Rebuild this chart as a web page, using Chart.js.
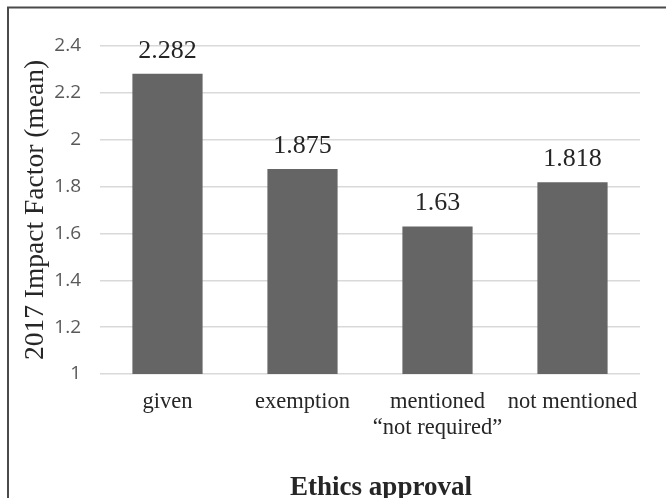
<!DOCTYPE html>
<html>
<head>
<meta charset="utf-8">
<script src="https://cdn.jsdelivr.net/npm/chart.js@4.4.1/dist/chart.umd.min.js"></script>
<style>
  html, body { margin: 0; padding: 0; background: #fff; }
  canvas { display: block; }
</style>
</head>
<body>
<canvas id="chart" width="666" height="498"></canvas>
<script>
// Mean 2017 impact factor by how ethics approval was reported
const categories = ['given', 'exemption', ['mentioned', '\u201Cnot required\u201D'], 'not mentioned'];
const meanImpactFactor = [2.282, 1.875, 1.63, 1.818];
const yTickValues = [1, 1.2, 1.4, 1.6, 1.8, 2, 2.2, 2.4];
const yTickLabels = ['1', '1.2', '1.4', '1.6', '1.8', '2', '2.2', '2.4'];
const xAxisTitle = 'Ethics approval';
const yAxisTitle = '2017 Impact Factor (mean)';

const SERIF = '"Liberation Serif", "Times New Roman", serif';
const SANS = '"Open Sans", "Liberation Sans", sans-serif';
const TEXT_DARK = '#262626';
const TICK_GRAY = '#595959';
const GRID_GRAY = '#d9d9d9';
const BAR_GRAY = '#656565';

// White background plus the outer frame line
const framePlugin = {
  id: 'frame',
  beforeDraw(chart) {
    const ctx = chart.ctx;
    ctx.save();
    ctx.fillStyle = '#ffffff';
    ctx.fillRect(0, 0, chart.width, chart.height);
    ctx.strokeStyle = '#4a4a4a';
    ctx.lineWidth = 2;
    ctx.strokeRect(8, 7.5, chart.width + 20, chart.height + 20);
    ctx.restore();
  }
};

// Value written above each bar, and the horizontal axis title
// (centred on the whole chart frame, which runs past the right edge)
const labelPlugin = {
  id: 'valueLabels',
  afterDatasetsDraw(chart) {
    const ctx = chart.ctx;
    const meta = chart.getDatasetMeta(0);
    const values = chart.data.datasets[0].data;
    ctx.save();
    ctx.font = '26px ' + SERIF;
    ctx.fillStyle = TEXT_DARK;
    ctx.textAlign = 'center';
    ctx.textBaseline = 'alphabetic';
    meta.data.forEach((bar, i) => {
      ctx.fillText(String(values[i]), bar.x, bar.y - 16);
    });

    const area = chart.chartArea;
    ctx.font = 'bold 27px ' + SERIF;
    ctx.fillText(xAxisTitle, (area.left + area.right) / 2 + 11, chart.height - 3);
    ctx.restore();
  }
};

new Chart(document.getElementById('chart'), {
  type: 'bar',
  data: {
    labels: categories,
    datasets: [{
      data: meanImpactFactor,
      backgroundColor: BAR_GRAY,
      borderWidth: 0,
      barPercentage: 0.52,
      categoryPercentage: 1.0
    }]
  },
  options: {
    responsive: false,
    animation: false,
    events: [],
    layout: { padding: { left: 8, right: 26, top: 46, bottom: 0 } },
    plugins: {
      legend: { display: false },
      tooltip: { enabled: false },
      title: { display: false }
    },
    scales: {
      x: {
        grid: { display: false, drawTicks: false },
        border: { display: false },
        ticks: {
          color: TEXT_DARK,
          padding: 15,
          maxRotation: 0,
          autoSkip: false,
          font: { family: SERIF, size: 22.5, lineHeight: 1.15 }
        },
        afterFit(scale) { scale.height = 124; }
      },
      y: {
        min: 1,
        max: 2.4,
        afterBuildTicks(scale) {
          scale.ticks = yTickValues.map(v => ({ value: v }));
        },
        grid: { color: GRID_GRAY, lineWidth: 1.5, drawTicks: false },
        border: { display: false },
        ticks: {
          color: TICK_GRAY,
          padding: 19,
          font: { family: SANS, size: 19 },
          callback(value) {
            const i = yTickValues.findIndex(v => Math.abs(v - value) < 1e-9);
            return i >= 0 ? yTickLabels[i] : '';
          }
        },
        title: {
          display: true,
          text: yAxisTitle,
          color: TEXT_DARK,
          padding: { top: 14, bottom: 0 },
          font: { family: SERIF, size: 27.5, lineHeight: 1 }
        },
        afterFit(scale) { scale.width = 92; }
      }
    }
  },
  plugins: [framePlugin, labelPlugin]
});
</script>
</body>
</html>
